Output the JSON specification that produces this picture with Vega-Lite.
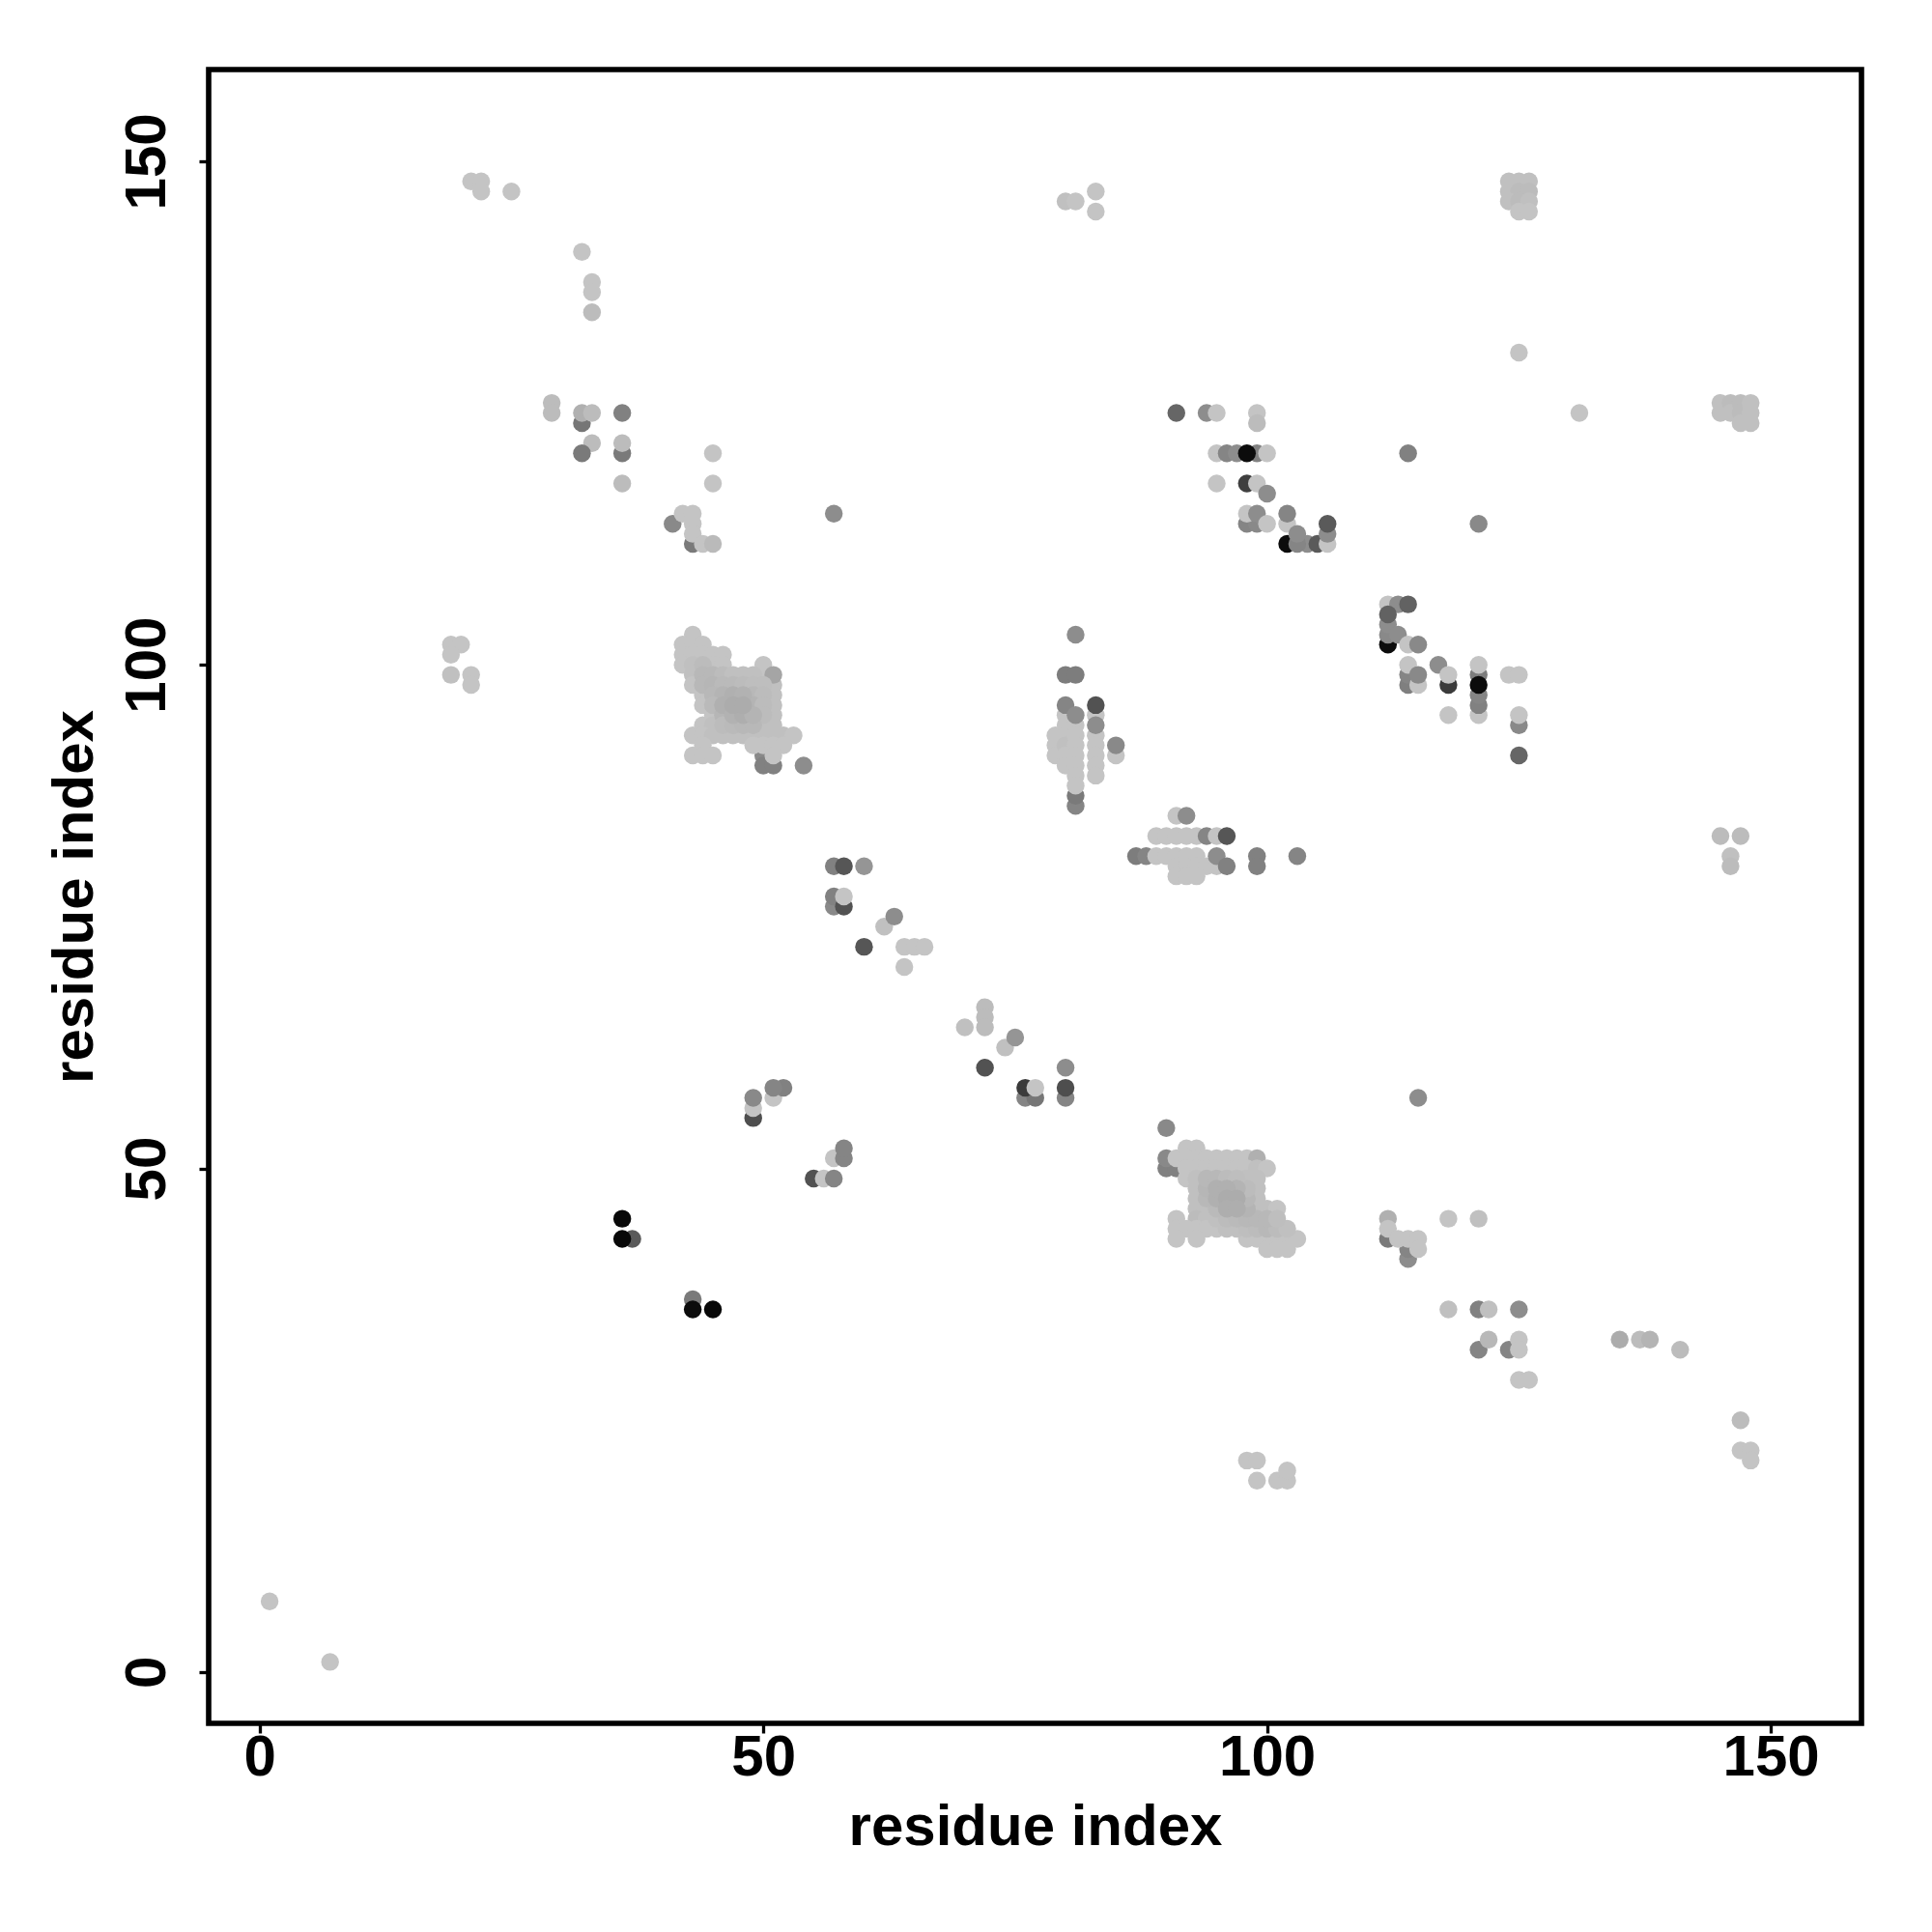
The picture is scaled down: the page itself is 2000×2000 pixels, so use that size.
{"$schema":"https://vega.github.io/schema/vega-lite/v6.json","width":1711,"height":1712,"autosize":{"type":"none"},"padding":{"left":216,"top":72,"right":73,"bottom":216},"background":"white","config":{"view":{"stroke":"#000000","strokeWidth":5.6},"font":"Liberation Sans"},"data":{"values":[
{"x":1,"y":7,"s":100},{"x":7,"y":1,"s":100},{"x":21,"y":148,"s":100},{"x":22,"y":148,"s":100},{"x":22,"y":147,"s":100},{"x":25,"y":147,"s":100},{"x":32,"y":141,"s":100},{"x":33,"y":138,"s":100},{"x":33,"y":137,"s":100},{"x":33,"y":135,"s":96},{"x":29,"y":126,"s":96},{"x":29,"y":125,"s":96},{"x":32,"y":124,"s":60},{"x":32,"y":125,"s":90},{"x":33,"y":125,"s":96},{"x":33,"y":122,"s":96},{"x":32,"y":121,"s":62},{"x":36,"y":125,"s":66},{"x":36,"y":121,"s":62},{"x":36,"y":122,"s":96},{"x":36,"y":118,"s":96},{"x":45,"y":121,"s":100},{"x":45,"y":118,"s":100},{"x":57,"y":115,"s":72},
{"x":41,"y":114,"s":70},{"x":43,"y":112,"s":62},{"x":42,"y":115,"s":100},{"x":43,"y":115,"s":100},{"x":43,"y":114,"s":100},{"x":43,"y":113,"s":100},{"x":44,"y":112,"s":100},{"x":45,"y":112,"s":95},
{"x":112,"y":106,"s":100},{"x":113,"y":106,"s":72},{"x":114,"y":106,"s":50},{"x":112,"y":102,"s":6},{"x":112,"y":103,"s":70},{"x":112,"y":104,"s":72},{"x":112,"y":105,"s":50},{"x":113,"y":103,"s":72},{"x":114,"y":102,"s":100},{"x":115,"y":102,"s":70},{"x":114,"y":98,"s":65},{"x":114,"y":99,"s":68},{"x":114,"y":100,"s":100},{"x":115,"y":98,"s":100},{"x":115,"y":99,"s":70},{"x":117,"y":100,"s":72},{"x":118,"y":98,"s":30},{"x":118,"y":99,"s":100},{"x":118,"y":95,"s":100},{"x":121,"y":95,"s":100},{"x":121,"y":96,"s":66},{"x":121,"y":97,"s":68},{"x":121,"y":99,"s":64},{"x":121,"y":100,"s":100},{"x":121,"y":98,"s":6},{"x":124,"y":99,"s":100},{"x":125,"y":99,"s":100},{"x":125,"y":94,"s":70},{"x":125,"y":95,"s":100},{"x":125,"y":91,"s":52},
{"x":91,"y":125,"s":52},{"x":94,"y":125,"s":72},{"x":95,"y":125,"s":100},{"x":99,"y":125,"s":100},{"x":99,"y":124,"s":96},{"x":95,"y":121,"s":100},{"x":96,"y":121,"s":68},{"x":97,"y":121,"s":72},{"x":99,"y":121,"s":66},{"x":98,"y":121,"s":6},{"x":100,"y":121,"s":100},{"x":95,"y":118,"s":100},{"x":98,"y":118,"s":32},{"x":99,"y":118,"s":100},{"x":100,"y":117,"s":72},{"x":98,"y":114,"s":68},{"x":99,"y":114,"s":70},{"x":98,"y":115,"s":100},{"x":99,"y":115,"s":72},{"x":100,"y":114,"s":100},{"x":102,"y":114,"s":100},{"x":102,"y":115,"s":68},{"x":102,"y":112,"s":6},{"x":104,"y":112,"s":72},{"x":103,"y":112,"s":68},{"x":103,"y":113,"s":72},{"x":105,"y":112,"s":46},{"x":106,"y":112,"s":100},{"x":106,"y":113,"s":72},{"x":106,"y":114,"s":46},
{"x":89,"y":83,"s":100},{"x":90,"y":83,"s":100},{"x":91,"y":83,"s":100},{"x":92,"y":83,"s":100},{"x":93,"y":83,"s":100},{"x":94,"y":83,"s":68},{"x":95,"y":83,"s":100},{"x":96,"y":83,"s":44},{"x":91,"y":85,"s":100},{"x":92,"y":85,"s":72},{"x":87,"y":81,"s":64},{"x":88,"y":81,"s":68},{"x":89,"y":81,"s":100},{"x":90,"y":81,"s":100},{"x":91,"y":81,"s":100},{"x":92,"y":81,"s":100},{"x":93,"y":81,"s":100},{"x":91,"y":80,"s":100},{"x":92,"y":80,"s":100},{"x":93,"y":80,"s":100},{"x":94,"y":80,"s":100},{"x":95,"y":80,"s":100},{"x":91,"y":79,"s":100},{"x":92,"y":79,"s":100},{"x":93,"y":79,"s":100},{"x":95,"y":81,"s":72},{"x":96,"y":80,"s":66},{"x":99,"y":81,"s":66},{"x":99,"y":80,"s":66},{"x":103,"y":81,"s":68},
{"x":81,"y":103,"s":72},{"x":80,"y":99,"s":64},{"x":81,"y":99,"s":64},{"x":81,"y":86,"s":68},{"x":81,"y":87,"s":62},{"x":79,"y":93,"s":100},{"x":79,"y":92,"s":100},{"x":79,"y":91,"s":100},{"x":80,"y":95,"s":100},{"x":80,"y":94,"s":100},{"x":80,"y":93,"s":100},{"x":80,"y":92,"s":98},{"x":80,"y":91,"s":100},{"x":80,"y":90,"s":100},{"x":81,"y":94,"s":100},{"x":81,"y":93,"s":100},{"x":81,"y":92,"s":100},{"x":81,"y":91,"s":100},{"x":81,"y":90,"s":100},{"x":81,"y":89,"s":100},{"x":81,"y":88,"s":100},{"x":80,"y":96,"s":68},{"x":81,"y":95,"s":72},{"x":83,"y":93,"s":100},{"x":83,"y":92,"s":100},{"x":83,"y":91,"s":100},{"x":83,"y":90,"s":100},{"x":83,"y":89,"s":100},{"x":83,"y":95,"s":100},{"x":83,"y":94,"s":72},{"x":83,"y":96,"s":42},{"x":85,"y":91,"s":100},{"x":85,"y":92,"s":70},
{"x":50,"y":91,"s":70},{"x":50,"y":90,"s":66},{"x":51,"y":90,"s":66},{"x":54,"y":90,"s":72},
{"x":43,"y":103,"s":100},{"x":42,"y":102,"s":100},{"x":43,"y":102,"s":100},{"x":44,"y":102,"s":100},{"x":42,"y":101,"s":100},{"x":43,"y":101,"s":100},{"x":44,"y":101,"s":100},{"x":45,"y":101,"s":100},{"x":46,"y":101,"s":100},{"x":42,"y":100,"s":100},{"x":43,"y":100,"s":98},{"x":45,"y":100,"s":100},{"x":46,"y":100,"s":100},{"x":50,"y":100,"s":100},{"x":43,"y":99,"s":98},{"x":50,"y":99,"s":100},{"x":43,"y":98,"s":100},{"x":51,"y":98,"s":98},{"x":44,"y":97,"s":100},{"x":51,"y":97,"s":98},{"x":44,"y":96,"s":100},{"x":51,"y":96,"s":98},{"x":45,"y":95,"s":100},{"x":51,"y":95,"s":98},{"x":44,"y":94,"s":100},{"x":45,"y":94,"s":98},{"x":50,"y":94,"s":98},{"x":51,"y":94,"s":98},{"x":43,"y":93,"s":100},{"x":44,"y":93,"s":100},{"x":45,"y":93,"s":98},{"x":46,"y":93,"s":98},{"x":47,"y":93,"s":98},{"x":48,"y":93,"s":98},{"x":49,"y":93,"s":98},{"x":50,"y":93,"s":98},{"x":51,"y":93,"s":98},{"x":52,"y":93,"s":98},{"x":53,"y":93,"s":100},{"x":44,"y":92,"s":100},{"x":49,"y":92,"s":100},{"x":50,"y":92,"s":100},{"x":51,"y":92,"s":100},{"x":52,"y":92,"s":100},{"x":43,"y":91,"s":100},{"x":44,"y":91,"s":100},{"x":45,"y":91,"s":100},{"x":51,"y":91,"s":100},{"x":51,"y":99,"s":84},
{"x":44,"y":100,"s":96},{"x":44,"y":99,"s":94},{"x":45,"y":99,"s":94},{"x":46,"y":99,"s":96},{"x":47,"y":99,"s":98},{"x":48,"y":99,"s":98},{"x":49,"y":99,"s":98},{"x":44,"y":98,"s":94},{"x":45,"y":98,"s":93},{"x":46,"y":98,"s":95},{"x":47,"y":98,"s":95},{"x":48,"y":98,"s":96},{"x":49,"y":98,"s":97},{"x":50,"y":98,"s":97},{"x":45,"y":97,"s":94},{"x":46,"y":97,"s":92},{"x":49,"y":97,"s":94},{"x":50,"y":97,"s":96},{"x":45,"y":96,"s":95},{"x":49,"y":96,"s":92},{"x":50,"y":96,"s":96},{"x":46,"y":95,"s":93},{"x":50,"y":95,"s":96},{"x":46,"y":94,"s":96},{"x":47,"y":94,"s":95},{"x":48,"y":94,"s":94},{"x":49,"y":94,"s":94},{"x":46,"y":96,"s":90},{"x":47,"y":97,"s":90},{"x":48,"y":97,"s":91},{"x":47,"y":95,"s":91},{"x":48,"y":95,"s":89},{"x":49,"y":95,"s":92},{"x":47,"y":96,"s":88},{"x":48,"y":96,"s":88},
{"x":49,"y":55,"s":40},{"x":49,"y":56,"s":100},{"x":49,"y":57,"s":70},{"x":51,"y":57,"s":100},{"x":52,"y":58,"s":66},{"x":51,"y":58,"s":68},{"x":57,"y":51,"s":100},{"x":58,"y":51,"s":68},{"x":58,"y":52,"s":68},{"x":55,"y":49,"s":42},{"x":56,"y":49,"s":100},{"x":57,"y":49,"s":68},
{"x":36,"y":45,"s":4},{"x":37,"y":43,"s":46},{"x":36,"y":43,"s":4},{"x":43,"y":37,"s":62},{"x":43,"y":36,"s":6},{"x":45,"y":36,"s":4},
{"x":57,"y":80,"s":66},{"x":58,"y":80,"s":44},{"x":60,"y":80,"s":76},{"x":57,"y":76,"s":70},{"x":57,"y":77,"s":66},{"x":58,"y":76,"s":42},{"x":58,"y":77,"s":100},{"x":62,"y":74,"s":98},{"x":63,"y":75,"s":72},{"x":60,"y":72,"s":44},{"x":64,"y":72,"s":100},{"x":65,"y":72,"s":100},{"x":66,"y":72,"s":100},{"x":64,"y":70,"s":100},
{"x":70,"y":64,"s":98},{"x":72,"y":66,"s":96},{"x":72,"y":65,"s":96},{"x":72,"y":64,"s":96},{"x":74,"y":62,"s":98},{"x":75,"y":63,"s":76},{"x":72,"y":60,"s":42},{"x":76,"y":57,"s":68},{"x":77,"y":57,"s":60},{"x":76,"y":58,"s":30},{"x":77,"y":58,"s":100},{"x":80,"y":60,"s":72},{"x":80,"y":57,"s":68},{"x":80,"y":58,"s":40},{"x":115,"y":57,"s":72},
{"x":90,"y":54,"s":70},{"x":90,"y":50,"s":66},{"x":91,"y":50,"s":66},{"x":90,"y":51,"s":70},{"x":91,"y":51,"s":100},
{"x":92,"y":52,"s":100},{"x":93,"y":52,"s":100},{"x":92,"y":51,"s":100},{"x":93,"y":51,"s":100},{"x":94,"y":51,"s":100},{"x":95,"y":51,"s":100},{"x":96,"y":51,"s":100},{"x":97,"y":51,"s":100},{"x":98,"y":51,"s":100},{"x":99,"y":51,"s":90},{"x":92,"y":50,"s":100},{"x":93,"y":50,"s":100},{"x":94,"y":50,"s":100},{"x":95,"y":50,"s":100},{"x":96,"y":50,"s":100},{"x":97,"y":50,"s":100},{"x":98,"y":50,"s":100},{"x":99,"y":50,"s":98},{"x":100,"y":50,"s":100},{"x":92,"y":49,"s":100},{"x":93,"y":49,"s":98},{"x":98,"y":49,"s":98},{"x":99,"y":49,"s":98},{"x":93,"y":48,"s":98},{"x":99,"y":48,"s":98},{"x":93,"y":47,"s":98},{"x":99,"y":47,"s":98},{"x":93,"y":46,"s":98},{"x":94,"y":46,"s":98},{"x":99,"y":46,"s":98},{"x":100,"y":46,"s":98},{"x":101,"y":46,"s":100},{"x":91,"y":45,"s":100},{"x":93,"y":45,"s":96},{"x":94,"y":45,"s":98},{"x":91,"y":44,"s":100},{"x":92,"y":44,"s":100},{"x":93,"y":44,"s":100},{"x":94,"y":44,"s":100},{"x":95,"y":44,"s":100},{"x":91,"y":43,"s":100},{"x":93,"y":43,"s":100},{"x":98,"y":43,"s":100},{"x":99,"y":43,"s":100},{"x":100,"y":43,"s":100},{"x":101,"y":43,"s":100},{"x":102,"y":43,"s":100},{"x":103,"y":43,"s":100},{"x":100,"y":42,"s":100},{"x":101,"y":42,"s":100},{"x":102,"y":42,"s":100},
{"x":96,"y":44,"s":98},{"x":97,"y":44,"s":98},{"x":98,"y":44,"s":97},{"x":99,"y":44,"s":96},{"x":100,"y":44,"s":94},{"x":101,"y":44,"s":96},{"x":102,"y":44,"s":98},{"x":95,"y":45,"s":98},{"x":96,"y":45,"s":96},{"x":97,"y":45,"s":95},{"x":98,"y":45,"s":94},{"x":99,"y":45,"s":94},{"x":100,"y":45,"s":94},{"x":101,"y":45,"s":97},{"x":95,"y":46,"s":95},{"x":98,"y":46,"s":92},{"x":94,"y":47,"s":94},{"x":98,"y":47,"s":94},{"x":94,"y":48,"s":93},{"x":98,"y":48,"s":96},{"x":94,"y":49,"s":94},{"x":95,"y":49,"s":94},{"x":96,"y":49,"s":96},{"x":97,"y":49,"s":97},{"x":97,"y":48,"s":92},{"x":95,"y":47,"s":90},{"x":95,"y":48,"s":90},{"x":96,"y":48,"s":90},{"x":96,"y":47,"s":88},{"x":97,"y":47,"s":88},{"x":96,"y":46,"s":89},{"x":97,"y":46,"s":89},
{"x":112,"y":43,"s":62},{"x":112,"y":45,"s":90},{"x":112,"y":44,"s":100},{"x":114,"y":41,"s":72},{"x":114,"y":42,"s":68},{"x":113,"y":43,"s":100},{"x":114,"y":43,"s":100},{"x":115,"y":43,"s":100},{"x":115,"y":42,"s":100},{"x":118,"y":45,"s":100},{"x":121,"y":45,"s":98},{"x":118,"y":36,"s":98},{"x":121,"y":36,"s":66},{"x":122,"y":36,"s":98},{"x":125,"y":36,"s":72},{"x":121,"y":32,"s":68},{"x":122,"y":33,"s":94},{"x":124,"y":32,"s":68},{"x":125,"y":33,"s":100},{"x":125,"y":32,"s":100},{"x":125,"y":29,"s":100},{"x":126,"y":29,"s":100},
{"x":135,"y":33,"s":88},{"x":137,"y":33,"s":96},{"x":138,"y":33,"s":92},{"x":141,"y":32,"s":96},{"x":147,"y":25,"s":96},{"x":147,"y":22,"s":100},{"x":148,"y":22,"s":100},{"x":148,"y":21,"s":100},{"x":98,"y":21,"s":100},{"x":99,"y":21,"s":100},{"x":99,"y":19,"s":100},{"x":101,"y":19,"s":100},{"x":102,"y":19,"s":100},{"x":102,"y":20,"s":100},
{"x":19,"y":102,"s":100},{"x":20,"y":102,"s":100},{"x":19,"y":101,"s":100},{"x":19,"y":99,"s":98},{"x":21,"y":99,"s":100},{"x":21,"y":98,"s":100},
{"x":80,"y":146,"s":98},{"x":81,"y":146,"s":100},{"x":83,"y":147,"s":100},{"x":83,"y":145,"s":100},
{"x":124,"y":148,"s":98},{"x":125,"y":148,"s":98},{"x":126,"y":148,"s":98},{"x":124,"y":147,"s":98},{"x":125,"y":147,"s":96},{"x":126,"y":147,"s":96},{"x":124,"y":146,"s":98},{"x":125,"y":146,"s":96},{"x":126,"y":146,"s":98},{"x":125,"y":145,"s":100},{"x":126,"y":145,"s":100},{"x":125,"y":131,"s":100},{"x":131,"y":125,"s":100},{"x":114,"y":121,"s":66},{"x":121,"y":114,"s":70},
{"x":145,"y":126,"s":98},{"x":145,"y":125,"s":98},{"x":146,"y":126,"s":96},{"x":146,"y":125,"s":98},{"x":147,"y":126,"s":96},{"x":147,"y":125,"s":96},{"x":147,"y":124,"s":98},{"x":148,"y":126,"s":98},{"x":148,"y":125,"s":98},{"x":148,"y":124,"s":98},
{"x":145,"y":83,"s":96},{"x":147,"y":83,"s":96},{"x":146,"y":81,"s":98},{"x":146,"y":80,"s":96}
]},"mark":{"type":"circle","size":340,"opacity":1,"strokeWidth":0},"encoding":{"x":{"field":"x","type":"quantitative","scale":{"domain":[-5.05,159],"nice":false,"zero":false},"axis":{"title":"residue index","values":[0,50,100,150],"grid":false,"domain":false,"tickColor":"#000000","tickWidth":3.3,"tickSize":10,"labelFont":"Liberation Sans","labelFontWeight":"bold","labelFontSize":60,"labelColor":"#000000","labelPadding":-4,"labelFlush":false,"titleFont":"Liberation Sans","titleFontWeight":"bold","titleFontSize":60,"titleColor":"#000000","titlePadding":13}},"y":{"field":"y","type":"quantitative","scale":{"domain":[-5.1,159.1],"nice":false,"zero":false},"axis":{"title":"residue index","values":[0,50,100,150],"grid":false,"domain":false,"tickColor":"#000000","tickWidth":3.3,"tickSize":10,"labelAngle":-90,"labelAlign":"center","labelBaseline":"bottom","labelFont":"Liberation Sans","labelFontWeight":"bold","labelFontSize":60,"labelColor":"#000000","labelPadding":23,"labelFlush":false,"titleFont":"Liberation Sans","titleFontWeight":"bold","titleFontSize":60,"titleColor":"#000000","titlePadding":14}},"color":{"field":"s","type":"quantitative","legend":null,"scale":{"domain":[0,100],"range":["#000000","#c4c4c4"],"interpolate":"rgb"}}}}
